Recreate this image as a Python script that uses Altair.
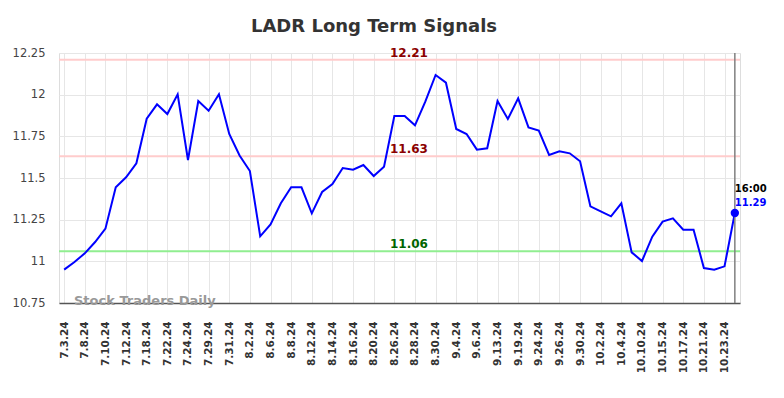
import altair as alt
import pandas as pd

# ---- data ----
dates = [
    "7.3.24", "7.5.24", "7.8.24", "7.9.24", "7.10.24", "7.11.24", "7.12.24", "7.16.24",
    "7.18.24", "7.19.24", "7.22.24", "7.23.24", "7.24.24", "7.26.24", "7.29.24", "7.30.24",
    "7.31.24", "8.1.24", "8.2.24", "8.5.24", "8.6.24", "8.7.24", "8.8.24", "8.9.24",
    "8.12.24", "8.13.24", "8.14.24", "8.15.24", "8.16.24", "8.19.24", "8.20.24", "8.22.24",
    "8.26.24", "8.27.24", "8.28.24", "8.29.24", "8.30.24", "9.3.24", "9.4.24", "9.5.24",
    "9.6.24", "9.10.24", "9.13.24", "9.17.24", "9.19.24", "9.20.24", "9.24.24", "9.25.24",
    "9.26.24", "9.27.24", "9.30.24", "10.1.24", "10.2.24", "10.3.24", "10.4.24", "10.8.24",
    "10.10.24", "10.11.24", "10.15.24", "10.16.24", "10.17.24", "10.18.24", "10.21.24",
    "10.22.24", "10.23.24", "10.24.24",
]
prices = [
    10.95, 10.996, 11.048, 11.116, 11.196, 11.444, 11.504, 11.588,
    11.856, 11.942, 11.884, 12.002, 11.608, 11.962, 11.904, 12.002,
    11.764, 11.635, 11.542, 11.15, 11.222, 11.348, 11.444, 11.444,
    11.288, 11.416, 11.464, 11.56, 11.55, 11.578, 11.512, 11.568,
    11.872, 11.872, 11.816, 11.958, 12.118, 12.072, 11.794, 11.764,
    11.67, 11.678, 11.962, 11.854, 11.978, 11.804, 11.784, 11.638,
    11.66, 11.648, 11.6, 11.33, 11.3, 11.27, 11.348, 11.054,
    11.002, 11.148, 11.238, 11.258, 11.19, 11.19, 10.96, 10.95,
    10.97, 11.29,
]
tick_labels = dates[0:65:2]
y_ticks = [10.75, 11.0, 11.25, 11.5, 11.75, 12.0, 12.25]
levels = [12.21, 11.63, 11.06]
level_text = ["12.21", "11.63", "11.06"]
level_line_colors = ["#ffcccc", "#ffcccc", "#90ee90"]
level_text_colors = ["#8b0000", "#8b0000", "#006400"]
title_text = "LADR Long Term Signals"
watermark = "Stock Traders Daily"
last_time = "16:00"

FONT = "DejaVu Sans"

df = pd.DataFrame({"date": dates, "value": prices})
last = df.iloc[[-1]].copy()
last["time"] = last_time
last["label"] = f"{prices[-1]:.2f}"

lev = pd.DataFrame({
    "level": levels, "text": level_text,
    "lc": level_line_colors, "tc": level_text_colors,
})

x_enc = alt.X(
    "date:N", sort=dates, title=None,
    scale=alt.Scale(type="point", padding=0.5),
    axis=alt.Axis(
        values=tick_labels, labelAngle=-90, labelFont=FONT, labelFontSize=10.5,
        labelFontWeight="bold", labelColor="#333333", labelPadding=18,
        ticks=False, grid=True, gridColor="#e6e6e6", gridWidth=1,
        domain=True, domainColor="#555555", domainWidth=1.5, labelOverlap=False,
    ),
)
y_scale = alt.Scale(domain=[10.75, 12.25], nice=False, zero=False)
y_enc = alt.Y(
    "value:Q", scale=y_scale, title=None,
    axis=alt.Axis(
        values=y_ticks, format=".2~f", labelFont=FONT, labelFontSize=11.5,
        labelColor="#444444", labelPadding=14, ticks=False, domain=False,
        grid=True, gridColor="#e6e6e6", gridWidth=1,
    ),
)

base = alt.Chart(df)

line = base.mark_line(color="#0000ff", strokeWidth=2).encode(x=x_enc, y=y_enc)

level_rules = alt.Chart(lev).mark_rule(strokeWidth=2).encode(
    y=alt.Y("level:Q", scale=y_scale),
    color=alt.Color("lc:N", scale=None),
)
level_labels = alt.Chart(lev).mark_text(
    font=FONT, fontSize=12, fontWeight="bold", align="center", baseline="alphabetic", dy=-3,
).encode(
    x=alt.value(350),
    y=alt.Y("level:Q", scale=y_scale),
    text="text:N",
    color=alt.Color("tc:N", scale=None),
)

vline = alt.Chart(last).mark_rule(color="#808080", strokeWidth=1.5).encode(x=x_enc)

dot = alt.Chart(last).mark_circle(color="#0000ff", size=70, opacity=1).encode(x=x_enc, y=y_enc)
time_txt = alt.Chart(last).mark_text(
    font=FONT, fontSize=10, fontWeight="bold", align="left", baseline="alphabetic",
    dy=-21, color="#000000",
).encode(x=x_enc, y=y_enc, text="time:N")
val_txt = alt.Chart(last).mark_text(
    font=FONT, fontSize=10, fontWeight="bold", align="left", baseline="alphabetic",
    dy=-7, color="#0000ff",
).encode(x=x_enc, y=y_enc, text="label:N")

single = pd.DataFrame({"t": [title_text], "w": [watermark]})
title = alt.Chart(single).mark_text(
    font=FONT, fontSize=18, fontWeight="bold", color="#333333",
    align="center", baseline="alphabetic",
).encode(x=alt.value(315), y=alt.value(-21), text="t:N")
wm = alt.Chart(single).mark_text(
    font=FONT, fontSize=13, fontWeight="bold", color="#999999",
    align="left", baseline="alphabetic",
).encode(x=alt.value(15), y=alt.value(252), text="w:N")

chart = alt.layer(
    level_rules, line, vline, level_labels, dot, time_txt, val_txt, title, wm,
).properties(
    width=681, height=250,
    autosize=alt.AutoSizeParams(type="none"),
    padding={"left": 51, "top": 45, "right": 36, "bottom": 80},
).configure_view(stroke=None).configure(background="white")

chart.save("out.html", embed_options={"renderer": "svg", "actions": False})
